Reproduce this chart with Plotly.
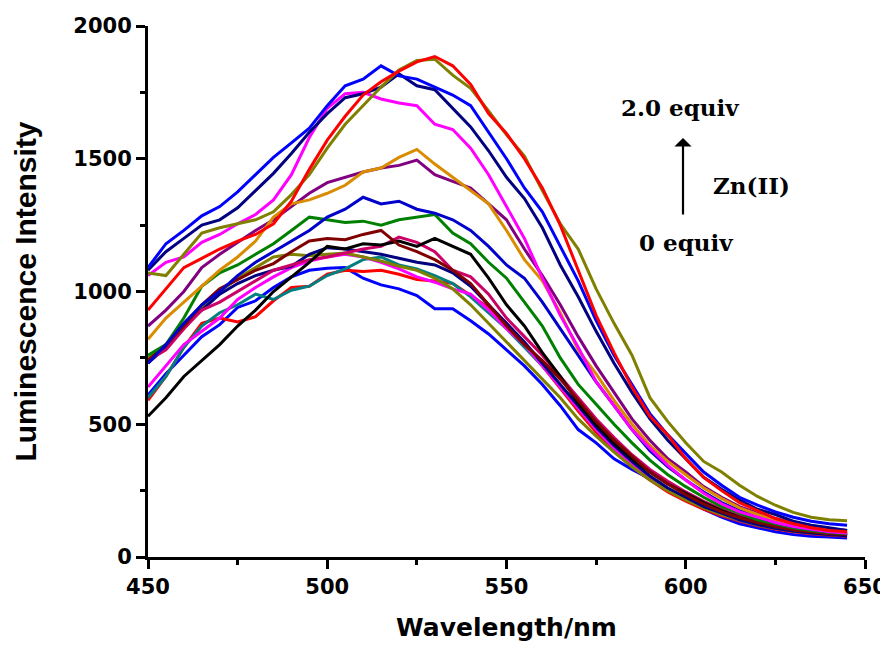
import plotly.graph_objects as go

# Wavelength grid (nm)
wavelength = [450, 455, 460, 465, 470, 475, 480, 485, 490, 495, 500, 505, 510, 515, 520,
              525, 530, 535, 540, 545, 550, 555, 560, 565, 570, 575, 580, 585, 590, 595,
              600, 605, 610, 615, 620, 625, 630, 635, 640, 645]

# Luminescence intensity series
blue_low = [610, 690, 760, 830, 875, 940, 965, 1015, 1055, 1080, 1088, 1090, 1050, 1025, 1010,
            985, 935, 935, 890, 840, 780, 720, 650, 570, 480, 430, 370, 330, 295, 250,
            215, 180, 150, 125, 110, 95, 85, 78, 75, 72]
red_low = [590, 680, 790, 880, 900, 885, 905, 965, 1015, 1020, 1065, 1080, 1075, 1080, 1065,
           1045, 1040, 1030, 985, 940, 880, 800, 720, 635, 550, 470, 400, 340, 290, 245,
           210, 180, 155, 135, 118, 105, 95, 88, 82, 78]
teal = [600, 680, 790, 870, 920, 950, 990, 970, 1005, 1020, 1060, 1085, 1120, 1130, 1100,
        1085, 1060, 1030, 980, 920, 860, 790, 720, 640, 560, 480, 410, 350, 300, 255,
        220, 188, 160, 138, 120, 108, 98, 90, 85, 82]
magenta_low = [640, 720, 800, 850, 900, 970, 1015, 1055, 1090, 1115, 1130, 1140, 1130, 1110, 1085,
               1055, 1035, 1010, 990, 930, 860, 800, 720, 640, 560, 480, 410, 350, 300, 255,
               220, 190, 162, 140, 122, 110, 100, 92, 88, 85]
olive_low = [750, 790, 860, 940, 1000, 1050, 1090, 1130, 1140, 1135, 1140, 1145, 1130, 1115, 1095,
             1080, 1050, 1010, 950, 880, 810, 740, 670, 600, 520, 455, 395, 340, 290, 250,
             215, 185, 160, 140, 122, 110, 100, 92, 86, 82]
navy_low = [730, 790, 870, 930, 990, 1030, 1060, 1080, 1095, 1140, 1165, 1160, 1150, 1140, 1125,
            1110, 1100, 1070, 1020, 950, 880, 810, 730, 650, 570, 490, 420, 360, 305, 260,
            225, 190, 165, 140, 122, 108, 98, 90, 85, 80]
deep_pink = [740, 780, 860, 930, 960, 1000, 1040, 1080, 1100, 1120, 1130, 1145, 1160, 1170, 1205,
             1185, 1150, 1080, 1055, 990, 900, 830, 760, 680, 600, 520, 450, 385, 330, 285,
             245, 210, 180, 155, 135, 120, 108, 98, 92, 88]
black = [530, 600, 680, 740, 800, 870, 930, 1000, 1055, 1110, 1170, 1160, 1180, 1175, 1190,
         1170, 1200, 1170, 1140, 1050, 950, 870, 770, 680, 580, 500, 430, 370, 320, 275,
         240, 205, 175, 150, 130, 115, 105, 95, 90, 85]
dark_red = [740, 800, 870, 950, 1010, 1045, 1080, 1105, 1150, 1190, 1200, 1195, 1215, 1230, 1175,
            1150, 1120, 1080, 1030, 950, 870, 800, 740, 670, 590, 510, 440, 380, 320, 275,
            235, 200, 170, 148, 130, 115, 102, 95, 88, 85]
green = [760, 800, 900, 1020, 1070, 1100, 1140, 1180, 1230, 1280, 1270, 1260, 1265, 1250, 1270,
         1280, 1290, 1220, 1180, 1110, 1050, 960, 870, 750, 650, 575, 500, 430, 365, 310,
         265, 225, 190, 165, 140, 125, 110, 100, 92, 88]
royal_blue = [730, 800, 880, 950, 1000, 1060, 1110, 1150, 1190, 1230, 1280, 1310, 1355, 1330, 1340,
              1310, 1295, 1270, 1230, 1170, 1100, 1050, 960, 860, 760, 660, 570, 480, 400, 340,
              290, 245, 205, 175, 150, 130, 115, 105, 95, 90]
purple = [870, 930, 1000, 1090, 1140, 1185, 1230, 1270, 1320, 1370, 1410, 1430, 1450, 1465, 1475,
          1495, 1440, 1415, 1390, 1330, 1270, 1160, 1060, 950, 830, 720, 620, 520, 440, 370,
          320, 265, 225, 190, 165, 145, 128, 115, 105, 100]
orange = [820, 900, 960, 1020, 1080, 1130, 1190, 1280, 1330, 1345, 1370, 1400, 1450, 1465, 1505,
          1535, 1480, 1430, 1380, 1330, 1230, 1120, 1040, 920, 780, 690, 590, 500, 420, 360,
          310, 260, 220, 185, 160, 140, 125, 115, 105, 100]
magenta_high = [1060, 1110, 1130, 1185, 1215, 1255, 1290, 1345, 1440, 1580, 1690, 1745, 1750, 1725, 1710,
                1700, 1630, 1610, 1540, 1440, 1320, 1200, 1050, 910, 790, 660, 570, 480, 410, 345,
                290, 240, 200, 170, 150, 130, 115, 105, 95, 90]
navy_high = [1080, 1150, 1200, 1250, 1270, 1315, 1380, 1445, 1520, 1600, 1670, 1730, 1745, 1770, 1820,
             1775, 1760, 1690, 1620, 1530, 1430, 1350, 1240, 1100, 980, 850, 730, 620, 520, 440,
             370, 300, 255, 215, 180, 160, 135, 120, 110, 100]
blue_high = [1090, 1180, 1230, 1285, 1320, 1375, 1440, 1505, 1560, 1615, 1700, 1775, 1800, 1850, 1812,
             1800, 1770, 1740, 1700, 1600, 1500, 1390, 1300, 1170, 1040, 890, 760, 650, 540, 460,
             390, 320, 270, 225, 195, 170, 150, 135, 125, 120]
olive_high = [1070, 1060, 1140, 1220, 1240, 1255, 1270, 1300, 1365, 1440, 1540, 1630, 1700, 1770, 1834,
              1870, 1875, 1815, 1765, 1680, 1590, 1510, 1380, 1255, 1160, 1010, 880, 760, 600, 510,
              430, 360, 320, 270, 228, 195, 168, 150, 140, 137]
red_high = [930, 1010, 1090, 1125, 1160, 1190, 1215, 1255, 1340, 1460, 1570, 1660, 1740, 1790, 1830,
            1865, 1885, 1850, 1780, 1670, 1595, 1500, 1390, 1250, 1080, 910, 770, 640, 530, 460,
            370, 300, 250, 205, 175, 145, 125, 110, 100, 95]

series = [
    (blue_low, "#0000FF"), (red_low, "#FF0000"), (teal, "#008080"), (magenta_low, "#FF00FF"),
    (olive_low, "#808000"), (navy_low, "#000080"), (deep_pink, "#CC0066"), (black, "#000000"),
    (dark_red, "#800000"), (green, "#008000"), (royal_blue, "#0000CC"), (purple, "#800080"),
    (orange, "#D98C00"), (magenta_high, "#FF00FF"), (navy_high, "#000080"), (blue_high, "#0000FF"),
    (olive_high, "#808000"), (red_high, "#FF0000"),
]

x_ticks = [450, 500, 550, 600, 650]
y_ticks = [0, 500, 1000, 1500, 2000]

fig = go.Figure()
for vals, col in series:
    fig.add_trace(go.Scatter(x=wavelength, y=vals, mode="lines",
                             line=dict(color=col, width=3), showlegend=False,
                             hoverinfo="skip"))

# The page body adds an 8 px margin on every side; the figure size compensates for it
# so that no scrollbar appears.
OFF = 8
W, H = 880, 634
L, R, T, B = 140, 23, 18, 85
pw, ph = W - L - R, H - T - B

def px(x):
    return (x - OFF - L) / pw

def py(y):
    return (H - B - (y - OFF)) / ph

tick_font = dict(family="DejaVu Sans", size=21, color="black", weight="bold")
axis_common = dict(showgrid=False, zeroline=False, showline=True, linecolor="black",
                   linewidth=3, ticks="outside", ticklen=9, tickwidth=3, tickcolor="black",
                   tickfont=tick_font, mirror=False, automargin=False)

fig.update_layout(
    width=W, height=H, margin=dict(l=L, r=R, t=T, b=B, pad=0),
    plot_bgcolor="white", paper_bgcolor="white",
    xaxis=dict(range=[450, 650], tickvals=x_ticks,
               minor=dict(dtick=25, tick0=450, ticks="outside", ticklen=5, tickwidth=3,
                          tickcolor="black"),
               title=dict(text="Wavelength/nm", standoff=26,
                          font=dict(family="DejaVu Sans", size=25, color="black",
                                    weight="bold")),
               **axis_common),
    yaxis=dict(range=[0, 2000], tickvals=y_ticks,
               minor=dict(dtick=250, tick0=0, ticks="outside", ticklen=5, tickwidth=3,
                          tickcolor="black"),
               title=dict(text="Luminescence Intensity", standoff=28,
                          font=dict(family="Arial, Liberation Sans", size=30, color="black",
                                    weight="bold")),
               **axis_common),
)

serif = dict(family="DejaVu Serif", size=23, color="black", weight="bold")
fig.add_annotation(xref="paper", yref="paper", x=px(680), y=py(107), text="2.0 equiv",
                   showarrow=False, font=serif, xanchor="center", yanchor="middle")
fig.add_annotation(xref="paper", yref="paper", x=px(751), y=py(185), text="Zn(II)",
                   showarrow=False, font=serif, xanchor="center", yanchor="middle")
fig.add_annotation(xref="paper", yref="paper", x=px(686), y=py(242), text="0 equiv",
                   showarrow=False, font=serif, xanchor="center", yanchor="middle")
fig.add_annotation(xref="paper", yref="paper", x=px(683), y=py(138), text="",
                   showarrow=True, ax=0, ay=78, arrowhead=1, arrowsize=1.3, arrowwidth=2.2,
                   arrowcolor="black")

fig.write_html("out.html")
